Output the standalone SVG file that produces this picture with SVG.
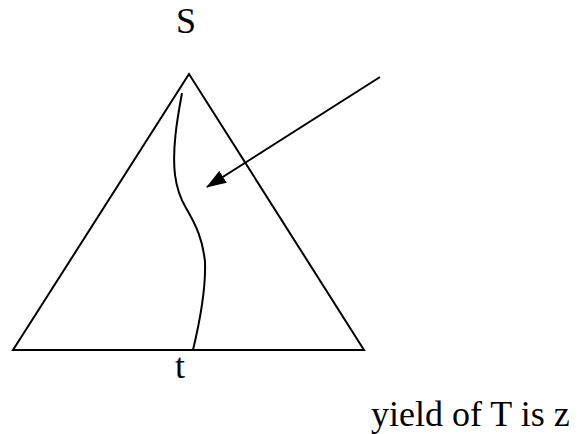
<svg xmlns="http://www.w3.org/2000/svg" width="580" height="434" viewBox="0 0 580 434">
<style>
.ln{fill:none;stroke:#000;stroke-width:2}
.tx{font-family:'Liberation Serif','Times New Roman','DejaVu Serif',serif;font-size:36px;fill:#000}
</style>
<defs>
<marker id="ah" viewBox="0 0 20 14" refX="19" refY="7" markerWidth="20" markerHeight="14" orient="auto" markerUnits="userSpaceOnUse">
<path d="M0,0 L20,7 L0,14 z" fill="#000"/>
</marker>
</defs>
<rect width="580" height="434" fill="#fff"/>
<g id="tree">
<path class="ln" d="M189,74 L13,350 L364,350 Z"/>
</g>
<g id="path">
<path class="ln" d="M182,93 C177,120 172,150 175,175 C177,190 180,198 186,208 C196,225 203,240 205,262 C206,290 199,325 193,350"/>
</g>
<g id="labels">
<text class="tx" x="186" y="33" text-anchor="middle" font-family="Liberation Serif, serif">S</text>
<text class="tx" x="180" y="378" text-anchor="middle" font-family="Liberation Serif, serif">t</text>
<text class="tx" x="371" y="426" font-family="Liberation Serif, serif">yield of T is z</text>
</g>
<g id="connectors">
<line class="ln" x1="380" y1="77" x2="207" y2="187" marker-end="url(#ah)"/>
</g>
</svg>
